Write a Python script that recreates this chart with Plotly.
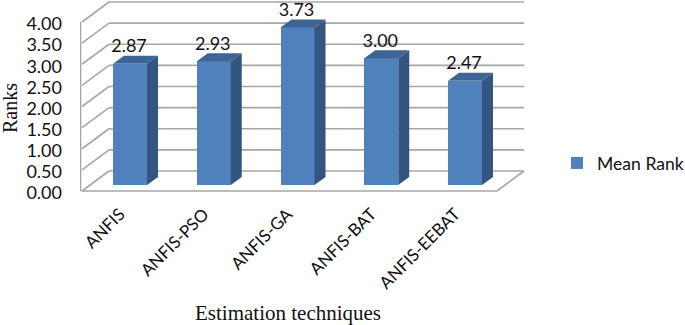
import plotly.graph_objects as go

categories = ["ANFIS", "ANFIS-PSO", "ANFIS-GA", "ANFIS-BAT", "ANFIS-EEBAT"]
mean_rank = [2.87, 2.93, 3.73, 3.00, 2.47]
labels = ["2.87", "2.93", "3.73", "3.00", "2.47"]
y_ticks = [0, 0.5, 1, 1.5, 2, 2.5, 3, 3.5, 4]
y_tick_text = ["0.00", "0.50", "1.00", "1.50", "2.00", "2.50", "3.00", "3.50", "4.00"]

positions = list(range(len(categories)))
W, H = 685, 325
L, R, T, B = 80, 530, 0, 200
px_x, px_y = 83.75, 42.25
x_range = [(L - 130) / px_x, (R - 130) / px_x]
y_range = [(191 - B) / px_y, (191 - T) / px_y]

wall_dx, wall_dy = 27 / px_x, 20 / px_y
wall_left = (82 - 130) / px_x
wall_right = (497 - 130) / px_x
bar_w = 34 / px_x
bar_base = 6 / px_y
bar_dx, bar_dy = 11 / px_x, 8 / px_y
x_label_nudge = 10 / px_x
y_label_nudge = 2 / px_y
value_label_dx = 1 / px_x
value_label_dy = 1 / px_y

GRID = "#a6a6a6"
FRONT, TOP, SIDE = "#4f81bd", "#3c6494", "#335580"
SANS, SERIF = "Lato", "Liberation Serif"

line = dict(color=GRID, width=1.6)
shapes = []
for t in y_ticks:
    shapes.append(dict(type="line", layer="below", line=line, x0=wall_left + wall_dx, x1=wall_right + wall_dx,
                       y0=t + wall_dy, y1=t + wall_dy))
    shapes.append(dict(type="line", layer="below", line=line, x0=wall_left, x1=wall_left + wall_dx,
                       y0=t, y1=t + wall_dy))
    shapes.append(dict(type="line", layer="below", line=line, x0=wall_left - 4 / px_x, x1=wall_left - 1.5 / px_x,
                       y0=t, y1=t))
shapes.append(dict(type="line", layer="below", line=line, x0=wall_left, x1=wall_right, y0=0, y1=0))
shapes.append(dict(type="line", layer="below", line=line, x0=wall_right, x1=wall_right + wall_dx, y0=0, y1=wall_dy))
shapes.append(dict(type="line", layer="below", line=line, x0=wall_left - 1.5 / px_x, x1=wall_left - 1.5 / px_x,
                   y0=0, y1=4))

fig = go.Figure()
fig.add_trace(go.Bar(x=positions, y=mean_rank, base=bar_base, width=bar_w, name="Mean Rank",
                     marker=dict(color=FRONT, line=dict(width=0))))
for p, v in zip(positions, mean_rank):
    xr, xl = p + bar_w / 2, p - bar_w / 2
    top = bar_base + v
    fig.add_trace(go.Scatter(x=[xr, xr + bar_dx, xr + bar_dx, xr, xr],
                             y=[bar_base, bar_base + bar_dy, top + bar_dy, top, bar_base],
                             mode="lines", fill="toself", fillcolor=SIDE, line=dict(width=0),
                             showlegend=False, hoverinfo="skip"))
    fig.add_trace(go.Scatter(x=[xl, xl + bar_dx, xr + bar_dx, xr, xl],
                             y=[top, top + bar_dy, top + bar_dy, top, top],
                             mode="lines", fill="toself", fillcolor=TOP, line=dict(width=0),
                             showlegend=False, hoverinfo="skip"))
fig.add_trace(go.Scatter(x=[p - value_label_dx for p in positions],
                         y=[bar_base + v + bar_dy - value_label_dy for v in mean_rank], mode="text", text=labels,
                         textposition="top center", textfont=dict(family=SANS, size=18, color="#111111"),
                         showlegend=False, hoverinfo="skip", cliponaxis=False))

# x tick labels sit 8 px lower than the axis bottom used earlier, so keep them anchored by tick length
fig.update_layout(
    width=W, height=H, autosize=False, margin=dict(l=0, r=0, t=0, b=0, autoexpand=False),
    paper_bgcolor="white", plot_bgcolor="rgba(0,0,0,0)", shapes=shapes, bargap=0,
    xaxis=dict(domain=[L / W, R / W], range=x_range, tickmode="array",
               tickvals=[p - x_label_nudge for p in positions], ticktext=categories,
               tickangle=-45, ticks="", ticklen=0, showgrid=False,
               zeroline=False, showline=False, tickfont=dict(family=SANS, size=17, color="#111111")),
    yaxis=dict(domain=[1 - B / H, 1 - T / H], range=y_range, tickmode="array",
               tickvals=[t - y_label_nudge for t in y_ticks],
               ticktext=y_tick_text, ticks="", ticklabelstandoff=17, showgrid=False, zeroline=False,
               showline=False, tickfont=dict(family=SANS, size=18, color="#111111")),
    legend=dict(x=557 / W, y=1 - 163 / H, xanchor="left", yanchor="middle", bgcolor="rgba(0,0,0,0)",
                font=dict(family=SANS, size=17.6, color="#111111"), itemwidth=30),
    showlegend=True,
    annotations=[
        dict(text="Ranks", xref="paper", yref="paper", x=10 / W, y=1 - 108 / H, xanchor="center", yanchor="middle",
             textangle=-90, showarrow=False, font=dict(family=SERIF, size=20, color="#111111")),
        dict(text="Estimation techniques", xref="paper", yref="paper", x=288 / W, y=1 - 313 / H, xanchor="center",
             yanchor="middle", showarrow=False, font=dict(family=SERIF, size=21, color="#111111")),
    ],
)
fig.write_html("out.html", config={"displayModeBar": False}, post_script="document.body.style.margin='0';")
